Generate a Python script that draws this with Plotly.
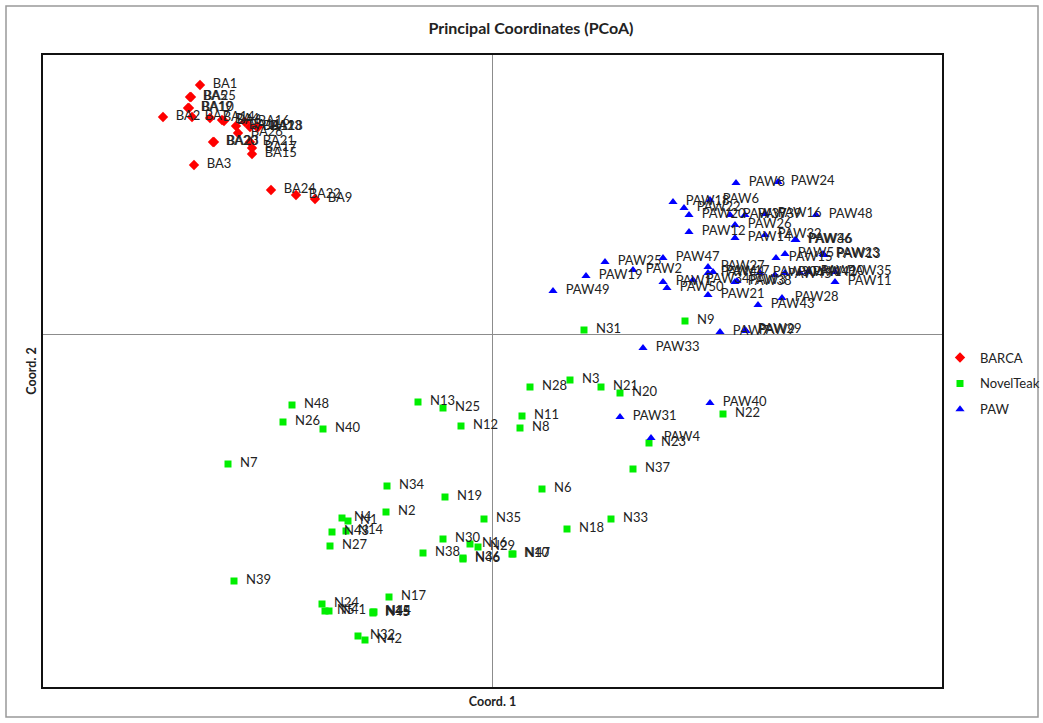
import plotly.graph_objects as go

# ---- data (arbitrary PCoA units) ----
ba_names = ["BA1", "BA5", "BA25", "BA19", "BA10", "BA2", "BA7", "BA14", "BA4", "BA6",
            "BA16", "BA11", "BA12", "BA13", "BA18", "BA26", "BA20", "BA23", "BA21", "BA17",
            "BA15", "BA3", "BA24", "BA22", "BA9"]
ba_x = [-2.92, -3.02, -3.01, -3.04, -3.03, -3.29, -3.00, -2.82, -2.70, -2.68,
        -2.47, -2.56, -2.42, -2.35, -2.34, -2.54, -2.79, -2.78, -2.42, -2.40,
        -2.40, -2.98, -2.21, -1.96, -1.77]
ba_y = [2.49, 2.37, 2.37, 2.26, 2.26, 2.17, 2.17, 2.16, 2.14, 2.13,
        2.12, 2.08, 2.07, 2.07, 2.07, 2.01, 1.92, 1.92, 1.92, 1.86,
        1.80, 1.69, 1.44, 1.39, 1.35]

nt_names = ["N%d" % i for i in range(1, 49)]
nt_x = [-1.44, -1.06, 0.78, -1.50, -1.67, 0.50, -2.64, 0.28, 1.93, 0.20,
        0.30, -0.31, -0.74, -1.46, -1.19, -0.22, -1.03, 0.75, -0.47, 1.28,
        1.09, 2.31, 1.57, -1.70, -0.49, -2.09, -1.62, 0.38, -0.14, -0.49,
        0.92, -1.34, 1.19, -1.05, -0.08, -0.29, 1.41, -0.69, -2.58, -1.69,
        -1.63, -1.27, -1.60, -1.18, -1.19, -0.29, 0.21, -2.00]
nt_y = [-1.87, -1.78, -0.46, -1.84, -2.77, -1.55, -1.30, -0.94, 0.13, -2.20,
        -0.82, -0.92, -0.68, -1.97, -2.78, -2.10, -2.63, -1.95, -1.63, -0.59,
        -0.53, -0.80, -1.09, -2.70, -0.74, -0.88, -2.12, -0.53, -2.13, -2.05,
        0.04, -3.02, -1.85, -1.52, -1.85, -2.24, -1.35, -2.19, -2.47, -0.95,
        -2.77, -3.06, -1.98, -2.78, -2.79, -2.25, -2.20, -0.71]

paw_names = ["PAW%d" % i for i in range(1, 51)]
paw_x = [1.71, 1.41, 2.45, 1.59, 2.93, 2.18, 2.28, 2.44, 2.54, 3.16,
         3.43, 1.97, 3.32, 2.43, 2.84, 2.73, 2.21, 1.81, 0.94, 1.97,
         2.16, 1.92, 3.31, 2.86, 1.13, 2.43, 2.16, 2.90, 2.53, 2.68,
         1.28, 2.73, 1.51, 2.01, 3.43, 3.03, 2.38, 2.43, 2.53, 2.18,
         2.93, 3.08, 2.66, 2.16, 2.83, 3.04, 1.71, 3.24, 0.61, 1.75]
paw_y = [0.52, 0.64, 0.53, -1.04, 0.80, 1.34, 0.02, 1.51, 0.03, 0.62,
         0.52, 1.02, 0.79, 0.96, 0.76, 1.20, 0.62, 1.32, 0.58, 1.19,
         0.39, 1.26, 0.80, 1.52, 0.72, 1.09, 0.67, 0.36, 0.04, 0.61,
         -0.83, 0.99, -0.14, 0.54, 0.62, 0.94, 1.19, 0.52, 1.19, -0.69,
         0.61, 0.61, 0.29, 0.61, 0.59, 0.94, 0.76, 1.19, 0.43, 0.46]

FONT = "Lato"
TXT = dict(family=FONT, size=13, color="#222222")
PAD = "\u00a0\u00a0"

fig = go.Figure()
for name, xs, ys, labels, sym, col, sz in [
    ("BARCA", ba_x, ba_y, ba_names, "diamond", "#ff0000", 8),
    ("NovelTeak", nt_x, nt_y, nt_names, "square", "#00ee00", 7),
    ("PAW", paw_x, paw_y, paw_names, "triangle-up", "#0000ff", 8),
]:
    fig.add_trace(go.Scatter(
        x=xs, y=ys, mode="markers+text", name=name, text=[PAD + t for t in labels],
        textposition="middle right", textfont=TXT, legendgroup=name,
        marker=dict(symbol=sym, color=col, size=sz, line=dict(width=0)),
        cliponaxis=False,
    ))

axis_common = dict(showgrid=False, showticklabels=False, ticks="",
                   zeroline=True, zerolinecolor="#8c8c8c", zerolinewidth=1,
                   showline=True, mirror=True, linecolor="#111111", linewidth=2)

fig.update_layout(
    width=1043, height=723,
    margin=dict(l=43, r=101, t=55, b=36, autoexpand=False),
    paper_bgcolor="white", plot_bgcolor="white",
    font=dict(family=FONT, size=12, color="#222222"),
    title=dict(text="<b>Principal Coordinates (PCoA)</b>", x=531/1043, xanchor="center",
               y=1 - 28/723, yanchor="middle", font=dict(family=FONT, size=16, color="#222222")),
    xaxis=dict(range=[-4.49, 4.50], title=dict(text="<b>Coord. 1</b>", standoff=9,
               font=dict(family=FONT, size=12.5, color="#222222")), **axis_common),
    yaxis=dict(range=[-3.53, 2.79], title=dict(text="<b>Coord. 2</b>", standoff=2,
               font=dict(family=FONT, size=12.5, color="#222222")), **axis_common),
    legend=dict(x=(940-43)/899, y=0.545, xanchor="left", yanchor="top", tracegroupgap=6,
                font=dict(family=FONT, size=13, color="#222222"), itemwidth=30,
                bgcolor="rgba(0,0,0,0)"),
    shapes=[dict(type="rect", xref="paper", yref="paper",
                 x0=-37/899, x1=(1038-43)/899, y0=-30/632, y1=(687-6)/632,
                 line=dict(color="#999999", width=1.5), fillcolor="rgba(0,0,0,0)")],
)

fig.write_html("out.html")
